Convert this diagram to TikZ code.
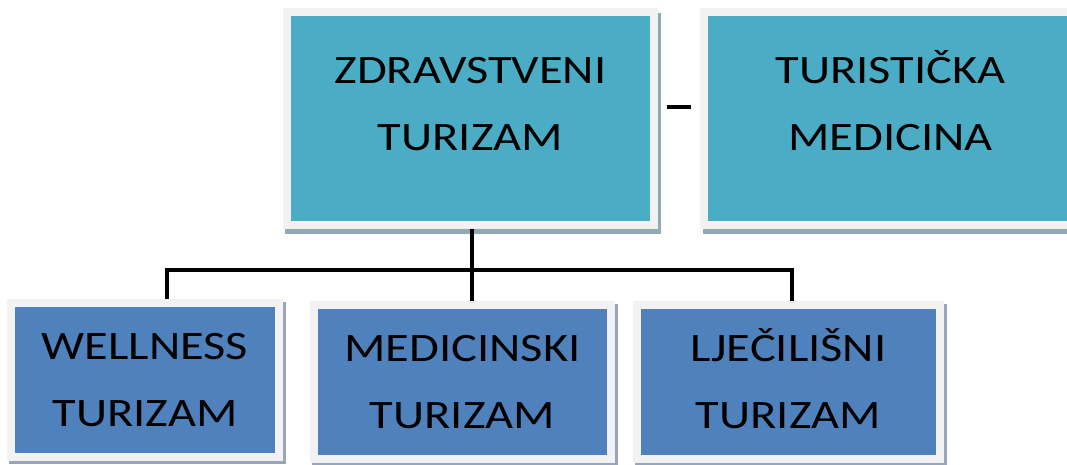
\documentclass[tikz,border=0pt]{standalone}
\usepackage{fontspec}
\setmainfont{Carlito}
\newfontfamily\boxfont[FakeStretch=1.2]{Carlito}
\usepackage{tikz}
\usetikzlibrary{positioning}
\definecolor{aqua}{HTML}{4BACC6}
\definecolor{steel}{HTML}{4F81BD}
\definecolor{framegray}{HTML}{F2F2F2}
\definecolor{shadeaqua}{HTML}{8FAAB4}
\definecolor{shadesteel}{HTML}{97A6BC}

\begin{document}
\begin{tikzpicture}[x=0.025cm, y=-0.025cm]
    \tikzstyle{box}=[draw=framegray, line width=0.2cm, align=center, inner sep=0pt,
      text height=2.325cm, text depth=0cm,
      font=\boxfont\fontsize{28.7}{47.6}\selectfont]
    \tikzstyle{upper}=[box, fill=aqua, minimum height=5.325cm, text depth=0.75cm,
      preaction={fill=shadeaqua, draw=shadeaqua, transform canvas={shift={(0.0625cm,-0.125cm)}}}]
    \tikzstyle{lower}=[box, fill=steel, minimum height=3.85cm,
      preaction={fill=shadesteel, draw=shadesteel, transform canvas={shift={(0.0625cm,-0.075cm)}}}]
    \tikzstyle{link}=[line width=0.1cm]
    \useasboundingbox (0,0) rectangle (1067,465);
    \clip (0,0) rectangle (1067,465);
    % top row
    \node [upper, minimum width=9.175cm] (zdr) at (470.5,118.5) {ZDRAVSTVENI\\TURIZAM};
    \node [upper, minimum width=9.3cm] (tur) at (890.5,118.5) {TURISTIČKA\\MEDICINA};
    % bottom row
    \node [lower, minimum width=6.7cm] (wel) at (145,380) {WELLNESS\\TURIZAM};
    \node [lower, minimum width=7.425cm] (med) at (462.5,382) {MEDICINSKI\\TURIZAM};
    \node [lower, minimum width=7.575cm] (lje) at (788.5,382) {LJEČILIŠNI\\TURIZAM};
    % connectors
    \coordinate (hub) at (472,270);
    \coordinate (wdrop) at (167,270);
    \coordinate (ldrop) at (792,270);
    \draw [link] (zdr.south -| hub) -- (med.north -| hub);
    \draw [link] (wel.north -| wdrop) -- (wdrop) -- (ldrop) -- (lje.north -| ldrop);
    \draw [link, shorten <=0.225cm, shorten >=0.225cm] ([yshift=0.2875cm]zdr.east) -- ([yshift=0.2875cm]tur.west);
  \end{tikzpicture}
\end{document}
